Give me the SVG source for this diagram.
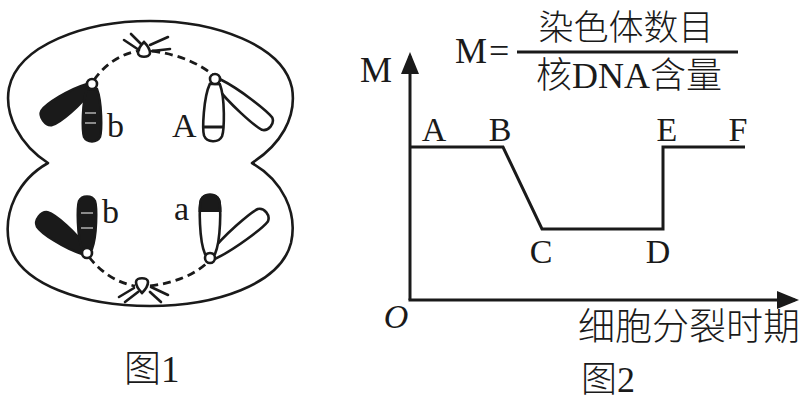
<svg xmlns="http://www.w3.org/2000/svg" width="803" height="400" viewBox="0 0 803 400">
<style>
.ln{fill:none;stroke:#1a1a1a;stroke-width:2.6;stroke-linecap:round;stroke-linejoin:round}
.ax{fill:none;stroke:#1a1a1a;stroke-width:3}
.dash{fill:none;stroke:#1a1a1a;stroke-width:2.8;stroke-dasharray:8,5}
.blk{fill:#1a1a1a;stroke:#1a1a1a;stroke-width:2.4}
.wht{fill:#fff;stroke:#1a1a1a;stroke-width:2.6}
.cen{fill:#fff;stroke:#1a1a1a;stroke-width:2.6}
.grey{stroke:#8a8a8a;stroke-width:2}
text{fill:#1a1a1a}
.lat{font-family:"Liberation Serif","Times New Roman",serif}
.cjk{font-family:"Liberation Serif","Noto Sans CJK SC",serif;font-weight:300}
</style>
<defs>
<marker id="arr" viewBox="0 0 22 18" refX="18" refY="9" markerWidth="22" markerHeight="18" markerUnits="userSpaceOnUse" orient="auto">
<path d="M0,0 L22,9 L0,18 Z" fill="#1a1a1a"/>
</marker>
<clipPath id="capA" clipPathUnits="userSpaceOnUse"><rect x="185" y="185" width="50" height="27"/></clipPath>
</defs>

<g id="fig1">
<path id="cell" class="ln" d="M48,163 C20,145 4,115 9,88 C18,45 85,21 150,21 C215,21 283,45 292,88 C297,118 280,145 252,163 C282,180 298,212 291,243 C280,285 215,306 150,306 C85,306 18,285 9,243 C3,212 18,180 48,163 Z"/>

<g id="spindle">
<path class="dash" d="M94,80 Q110,57 137,51"/>
<path class="dash" d="M152,51 Q190,56 213,75"/>
<path class="dash" d="M89,257 Q108,281 135,286"/>
<path class="dash" d="M150,286 Q188,281 208,262"/>
</g>

<g id="pole-top">
<path class="wht" d="M144,42 C140,46 138,49 138,53 C138,58 150,58 150,53 C150,49 148,46 144,42 Z"/>
<line class="ln" x1="124" y1="40" x2="139" y2="50"/>
<line class="ln" x1="131" y1="34" x2="141" y2="44"/>
<line class="ln" x1="150" y1="45" x2="168" y2="37"/>
<line class="ln" x1="152" y1="51" x2="170" y2="49"/>
</g>

<g id="pole-bottom">
<path class="wht" d="M142,293 C138,289 136,286 136,282 C136,277 148,277 148,282 C148,286 146,289 142,293 Z"/>
<line class="ln" x1="119" y1="297" x2="134" y2="288"/>
<line class="ln" x1="125" y1="302" x2="138" y2="292"/>
<line class="ln" x1="151" y1="287" x2="168" y2="295"/>
<line class="ln" x1="150" y1="292" x2="161" y2="302"/>
</g>

<g id="chrom-b-top">
<path class="blk" transform="translate(92,85) rotate(54)" d="M-4,4 C-10,21 -12,48 -9,56 C-6,62 6,62 9,56 C12,48 10,21 4,4Z"/>
<path class="blk" transform="translate(92,85)" d="M-5,4 C-10,17 -10,46 -8,52 C-5,58 5,58 8,52 C10,46 10,17 5,4Z"/>
<line class="grey" x1="85" y1="113" x2="96" y2="113"/>
<line class="grey" x1="85" y1="123" x2="96" y2="123"/>
<circle class="cen" cx="92" cy="84" r="5"/>
<text class="lat" x="107" y="137" font-size="34">b</text>
</g>

<g id="chrom-A-top">
<path class="wht" transform="translate(215,80) rotate(-50)" d="M-4,4 C-9,25 -10,60 -8,68 C-5,74 5,74 8,68 C10,60 9,25 4,4Z"/>
<path class="wht" transform="translate(215,80) rotate(2)" d="M-5,4 C-11,18 -11,50 -9,56 C-6,63 6,63 9,56 C11,50 11,18 5,4Z"/>
<line stroke="#1a1a1a" stroke-width="3" x1="203" y1="127" x2="224" y2="127"/>
<circle class="cen" cx="215" cy="79" r="5"/>
<text class="lat" x="172" y="137" font-size="34">A</text>
</g>

<g id="chrom-b-bottom">
<path class="blk" transform="translate(87,253) rotate(127)" d="M-4,4 C-10,21 -12,48 -9,56 C-6,62 6,62 9,56 C12,48 10,21 4,4Z"/>
<path class="blk" transform="translate(87,253) rotate(180)" d="M-5,4 C-10,17 -10,46 -8,52 C-5,58 5,58 8,52 C10,46 10,17 5,4Z"/>
<line class="grey" x1="81" y1="213" x2="93" y2="213"/>
<line class="grey" x1="81" y1="228" x2="93" y2="228"/>
<circle class="cen" cx="87" cy="253" r="5"/>
<text class="lat" x="102" y="223" font-size="34">b</text>
</g>

<g id="chrom-a-bottom">
<path class="wht" transform="translate(210,258) rotate(-129)" d="M-4,4 C-9,25 -10,60 -8,68 C-5,74 5,74 8,68 C10,60 9,25 4,4Z"/>
<path class="wht" transform="translate(210,258) rotate(180)" d="M-5,4 C-11,18 -11,52 -9,58 C-6,65 6,65 9,58 C11,52 11,18 5,4Z"/>
<g clip-path="url(#capA)">
<path class="blk" transform="translate(210,258) rotate(180)" d="M-5,4 C-11,18 -11,52 -9,58 C-6,65 6,65 9,58 C11,52 11,18 5,4Z"/>
</g>
<circle class="cen" cx="210" cy="258" r="5"/>
<text class="lat" x="174" y="220" font-size="34">a</text>
</g>

<text id="cap1" class="cjk" x="124" y="382" font-size="37">图1</text>
</g>

<g id="fig2">
<g id="formula">
<text class="lat" x="455" y="63" font-size="36">M<tspan dx="2">=</tspan></text>
<line stroke="#1a1a1a" stroke-width="3" x1="517" y1="52" x2="738" y2="52"/>
<text class="cjk" x="626" y="40" font-size="35" text-anchor="middle">染色体数目</text>
<text class="cjk" x="629" y="88" font-size="36" text-anchor="middle">核DNA含量</text>
</g>

<g id="axes">
<line class="ax" x1="410" y1="300" x2="410" y2="56" marker-end="url(#arr)"/>
<line class="ax" x1="408.5" y1="300" x2="795" y2="300" marker-end="url(#arr)"/>
<text class="lat" x="376" y="82" font-size="36" text-anchor="middle">M</text>
<text class="lat" x="396" y="328" font-size="34" font-style="italic" text-anchor="middle">O</text>
<text class="cjk" x="578" y="340" font-size="37">细胞分裂时期</text>
</g>

<g id="connectors">
<polyline class="ax" points="410,147 503,147 542,229 663,229 663,147 745,147"/>
</g>

<g id="labels" class="lat" font-size="34" text-anchor="middle">
<text x="434" y="141">A</text>
<text x="500" y="141">B</text>
<text x="541" y="263">C</text>
<text x="658" y="263">D</text>
<text x="667" y="141">E</text>
<text x="738" y="141">F</text>
</g>

<text id="cap2" class="cjk" x="581" y="392" font-size="36">图2</text>
</g>
</svg>
